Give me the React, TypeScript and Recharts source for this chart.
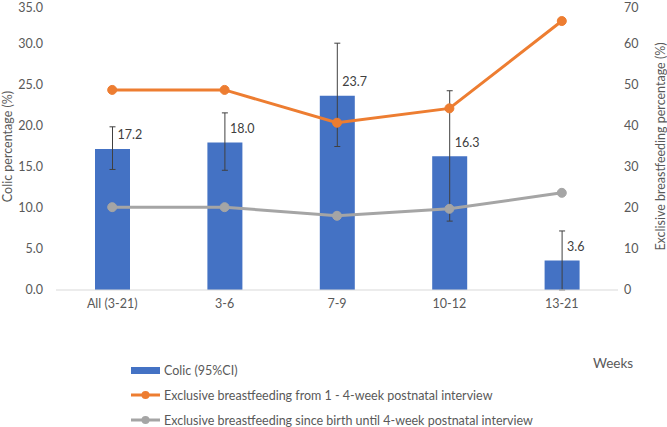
import { ComposedChart, Bar, Line, XAxis, YAxis, ErrorBar, LabelList } from 'recharts'

const weeks = ['All (3-21)', '3-6', '7-9', '10-12', '13-21']
const colic = [17.2, 18.0, 23.7, 16.3, 3.6]
const colicLow = [14.7, 14.6, 17.5, 8.4, 0.0]
const colicHigh = [19.9, 21.6, 30.1, 24.3, 7.2]
const ebfFrom1To4 = [48.8, 48.8, 40.8, 44.3, 65.6]
const ebfSinceBirth = [20.2, 20.2, 18.1, 19.8, 23.7]
const colicTicks = [0, 5, 10, 15, 20, 25, 30, 35]
const ebfTicks = [0, 10, 20, 30, 40, 50, 60, 70]

const data = weeks.map((w, i) => ({
	week: w,
	colic: colic[i],
	ci: [colic[i] - colicLow[i], colicHigh[i] - colic[i]],
	ebf1: ebfFrom1To4[i],
	ebf2: ebfSinceBirth[i],
}))

const BLUE = '#4472C4'
const ORANGE = '#ED7D31'
const GREY = '#A5A5A5'
const TEXT = '#595959'
const FS = 12.5

const ValueLabel = (props: any) => {
	const x = Number(props.x)
	const y = Number(props.y)
	const w = Number(props.width)
	return (
		<text x={x + w / 2 + 5} y={y - 14} dominantBaseline='central' fontSize={FS} fill='#404040'>
			{Number(props.value).toFixed(1)}
		</text>
	)
}

const LegendRow = ({ kind, color, text, top }: { kind: 'bar' | 'line'; color: string; text: string; top: number }) => (
	<div style={{ position: 'absolute', left: 131, top: top - 8, height: 16, display: 'flex', alignItems: 'center' }}>
		<svg width={30} height={16}>
			{kind === 'bar' ? (
				<rect x={0} y={5} width={29} height={7} fill={color} />
			) : (
				<g>
					<line x1={0} y1={8} x2={29} y2={8} stroke={color} strokeWidth={3} />
					<circle cx={14.5} cy={8} r={4} fill={color} />
				</g>
			)}
		</svg>
		<span style={{ marginLeft: 3, fontSize: FS, color: TEXT, whiteSpace: 'nowrap' }}>{text}</span>
	</div>
)

export default () => {
	return (
		<div style={{ position: 'absolute', left: 0, top: 0, width: 667, height: 427, fontFamily: 'Lato', background: '#fff' }}>
			<ComposedChart width={667} height={427} data={data} margin={{ top: 3, right: 0, left: 0, bottom: 107 }}>
				<XAxis
					dataKey='week'
					height={30}
					tickLine={false}
					axisLine={{ stroke: '#D9D9D9' }}
					tick={{ fontSize: FS, fill: TEXT }}
					tickMargin={3}
				/>
				<YAxis
					yAxisId='left'
					width={56}
					domain={[0, 35]}
					ticks={colicTicks}
					tickFormatter={(v: number) => v.toFixed(1)}
					axisLine={false}
					tickLine={false}
					tick={{ fontSize: FS, fill: TEXT }}
					tickMargin={7}
					label={{ value: 'Colic percentage (%)', angle: -90, position: 'insideLeft', offset: 8, style: { fontSize: FS, fill: TEXT, textAnchor: 'middle' } }}
				/>
				<YAxis
					yAxisId='right'
					orientation='right'
					width={49}
					domain={[0, 70]}
					ticks={ebfTicks}
					axisLine={false}
					tickLine={false}
					tick={{ fontSize: FS, fill: TEXT }}
					tickMargin={0}
					label={{ value: 'Exclisive breastfeeding percentage (%)', angle: -90, position: 'insideRight', offset: 6, style: { fontSize: FS, fill: TEXT, textAnchor: 'middle' } }}
				/>
				<Bar yAxisId='left' dataKey='colic' fill={BLUE} barSize={35} isAnimationActive={false}>
					<ErrorBar dataKey='ci' width={3} stroke='#404040' strokeWidth={1} direction='y' />
					<LabelList dataKey='colic' content={ValueLabel} />
				</Bar>
				<Line
					yAxisId='right'
					dataKey='ebf1'
					stroke={ORANGE}
					strokeWidth={3}
					dot={{ r: 4.5, fill: ORANGE, stroke: ORANGE, strokeWidth: 1 }}
					isAnimationActive={false}
				/>
				<Line
					yAxisId='right'
					dataKey='ebf2'
					stroke={GREY}
					strokeWidth={3}
					dot={{ r: 4.5, fill: GREY, stroke: GREY, strokeWidth: 1 }}
					isAnimationActive={false}
				/>
			</ComposedChart>
			<div style={{ position: 'absolute', left: 593, top: 355, fontSize: 13.5, color: TEXT }}>Weeks</div>
			<LegendRow kind='bar' color={BLUE} text='Colic (95%CI)' top={370} />
			<LegendRow kind='line' color={ORANGE} text='Exclusive breastfeeding from 1 - 4-week postnatal interview' top={395} />
			<LegendRow kind='line' color={GREY} text='Exclusive breastfeeding since birth until 4-week postnatal interview' top={420} />
		</div>
	)
}
